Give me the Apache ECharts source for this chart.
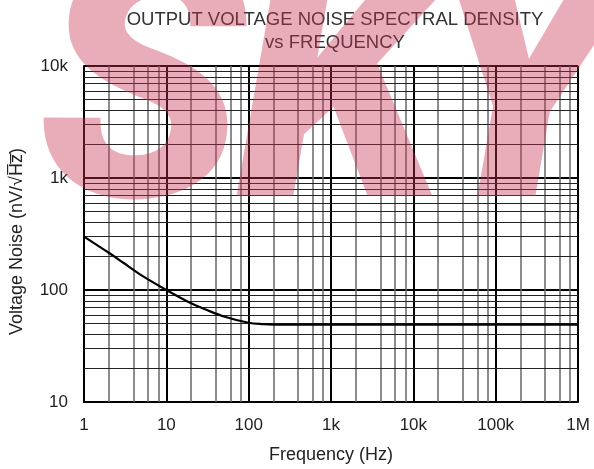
<!DOCTYPE html>
<html>
<head>
<meta charset="utf-8">
<script src="https://cdn.jsdelivr.net/npm/echarts@6/dist/echarts.min.js"></script>
<style>
html, body { margin: 0; padding: 0; background: #fff; }
#chart { width: 594px; height: 469px; }
</style>
</head>
<body>
<div id="chart"></div>
<script>
// noise curve (Hz, nV/rtHz)
var freq = [1, 2, 3, 5, 10, 20, 30, 50, 100, 150, 200, 500, 1000000];
var noise = [300, 215, 175, 135, 100, 76, 67, 58, 51, 49.5, 49, 49, 49];
var xTickLabels = ['1', '10', '100', '1k', '10k', '100k', '1M'];
var yTickLabels = ['10', '100', '1k', '10k'];
// the frequency grid only has 2,4,6,8 in each decade, the voltage grid has 2..9
var xMinorSteps = [2, 4, 6, 8];
var yMinorSteps = [2, 3, 4, 5, 6, 7, 8, 9];

var FONT = '"Liberation Sans", Arial, sans-serif';

function minorLines(from, to, steps, axis) {
    var out = [];
    for (var d = from; d < to; d *= 10) {
        for (var i = 0; i < steps.length; i++) {
            var o = {};
            o[axis] = steps[i] * d;
            out.push(o);
        }
    }
    return out;
}

// big see-through "SKY" watermark laid over the plot
function watermark() {
    var letters = [['S', 38], ['K', 236], ['Y', 420]];
    return letters.map(function (l) {
        return {
            type: 'text',
            z: 100,
            silent: true,
            style: {
                text: l[0],
                x: l[1],
                y: -59,
                font: 'italic 900 340px Roboto',
                fill: 'rgba(200,50,80,0.4)'
            }
        };
    });
}

var chart = echarts.init(document.getElementById('chart'));
var option = {
    animation: false,
    backgroundColor: '#fff',
    title: {
        text: 'OUTPUT VOLTAGE NOISE SPECTRAL DENSITY\nvs FREQUENCY',
        left: 330,
        top: 3,
        textAlign: 'center',
        textStyle: { fontFamily: FONT, fontSize: 18.5, fontWeight: 'normal', color: '#333', lineHeight: 23 }
    },
    grid: { left: 83, right: 16, top: 66, bottom: 67 },
    xAxis: {
        type: 'log',
        logBase: 10,
        min: 1,
        max: 1000000,
        interval: 1,
        name: 'Frequency (Hz)',
        nameLocation: 'middle',
        nameGap: 44,
        nameTextStyle: { fontFamily: FONT, fontSize: 18, color: '#222' },
        axisLine: { lineStyle: { color: '#000', width: 2 } },
        axisTick: { show: false },
        axisLabel: {
            margin: 15,
            fontFamily: FONT, fontSize: 17, color: '#222',
            formatter: function (v) {
                return xTickLabels[Math.round(Math.log10(v))];
            }
        },
        splitLine: { show: true, lineStyle: { color: '#000', width: 2 } }
    },
    yAxis: {
        type: 'log',
        logBase: 10,
        min: 10,
        max: 10000,
        interval: 1,
        name: 'Voltage Noise (nV/\u221AH\u0305z\u0305)',
        nameLocation: 'middle',
        nameGap: 58,
        nameTextStyle: { fontFamily: FONT, fontSize: 18, color: '#222', padding: [0, 15, 0, 0] },
        axisLine: { lineStyle: { color: '#000', width: 2 } },
        axisTick: { show: false },
        axisLabel: {
            margin: 16,
            fontFamily: FONT, fontSize: 17, color: '#222',
            formatter: function (v) {
                return yTickLabels[Math.round(Math.log10(v)) - 1];
            }
        },
        splitLine: { show: true, lineStyle: { color: '#000', width: 2 } }
    },
    series: [{
        type: 'line',
        data: freq.map(function (f, i) { return [f, noise[i]]; }),
        smooth: 0.35,
        showSymbol: false,
        lineStyle: { color: '#000', width: 2.2 },
        z: 5,
        markLine: {
            silent: true,
            symbol: 'none',
            label: { show: false },
            lineStyle: { color: '#666', width: 1.5, type: 'solid' },
            data: minorLines(1, 1000000, xMinorSteps, 'xAxis')
        }
    }, {
        type: 'line',
        data: [],
        markLine: {
            silent: true,
            symbol: 'none',
            label: { show: false },
            lineStyle: { color: '#222', width: 1.2, type: 'solid' },
            data: minorLines(10, 10000, yMinorSteps, 'yAxis')
        }
    }],
    graphic: watermark()
};
chart.setOption(option);
</script>
</body>
</html>
